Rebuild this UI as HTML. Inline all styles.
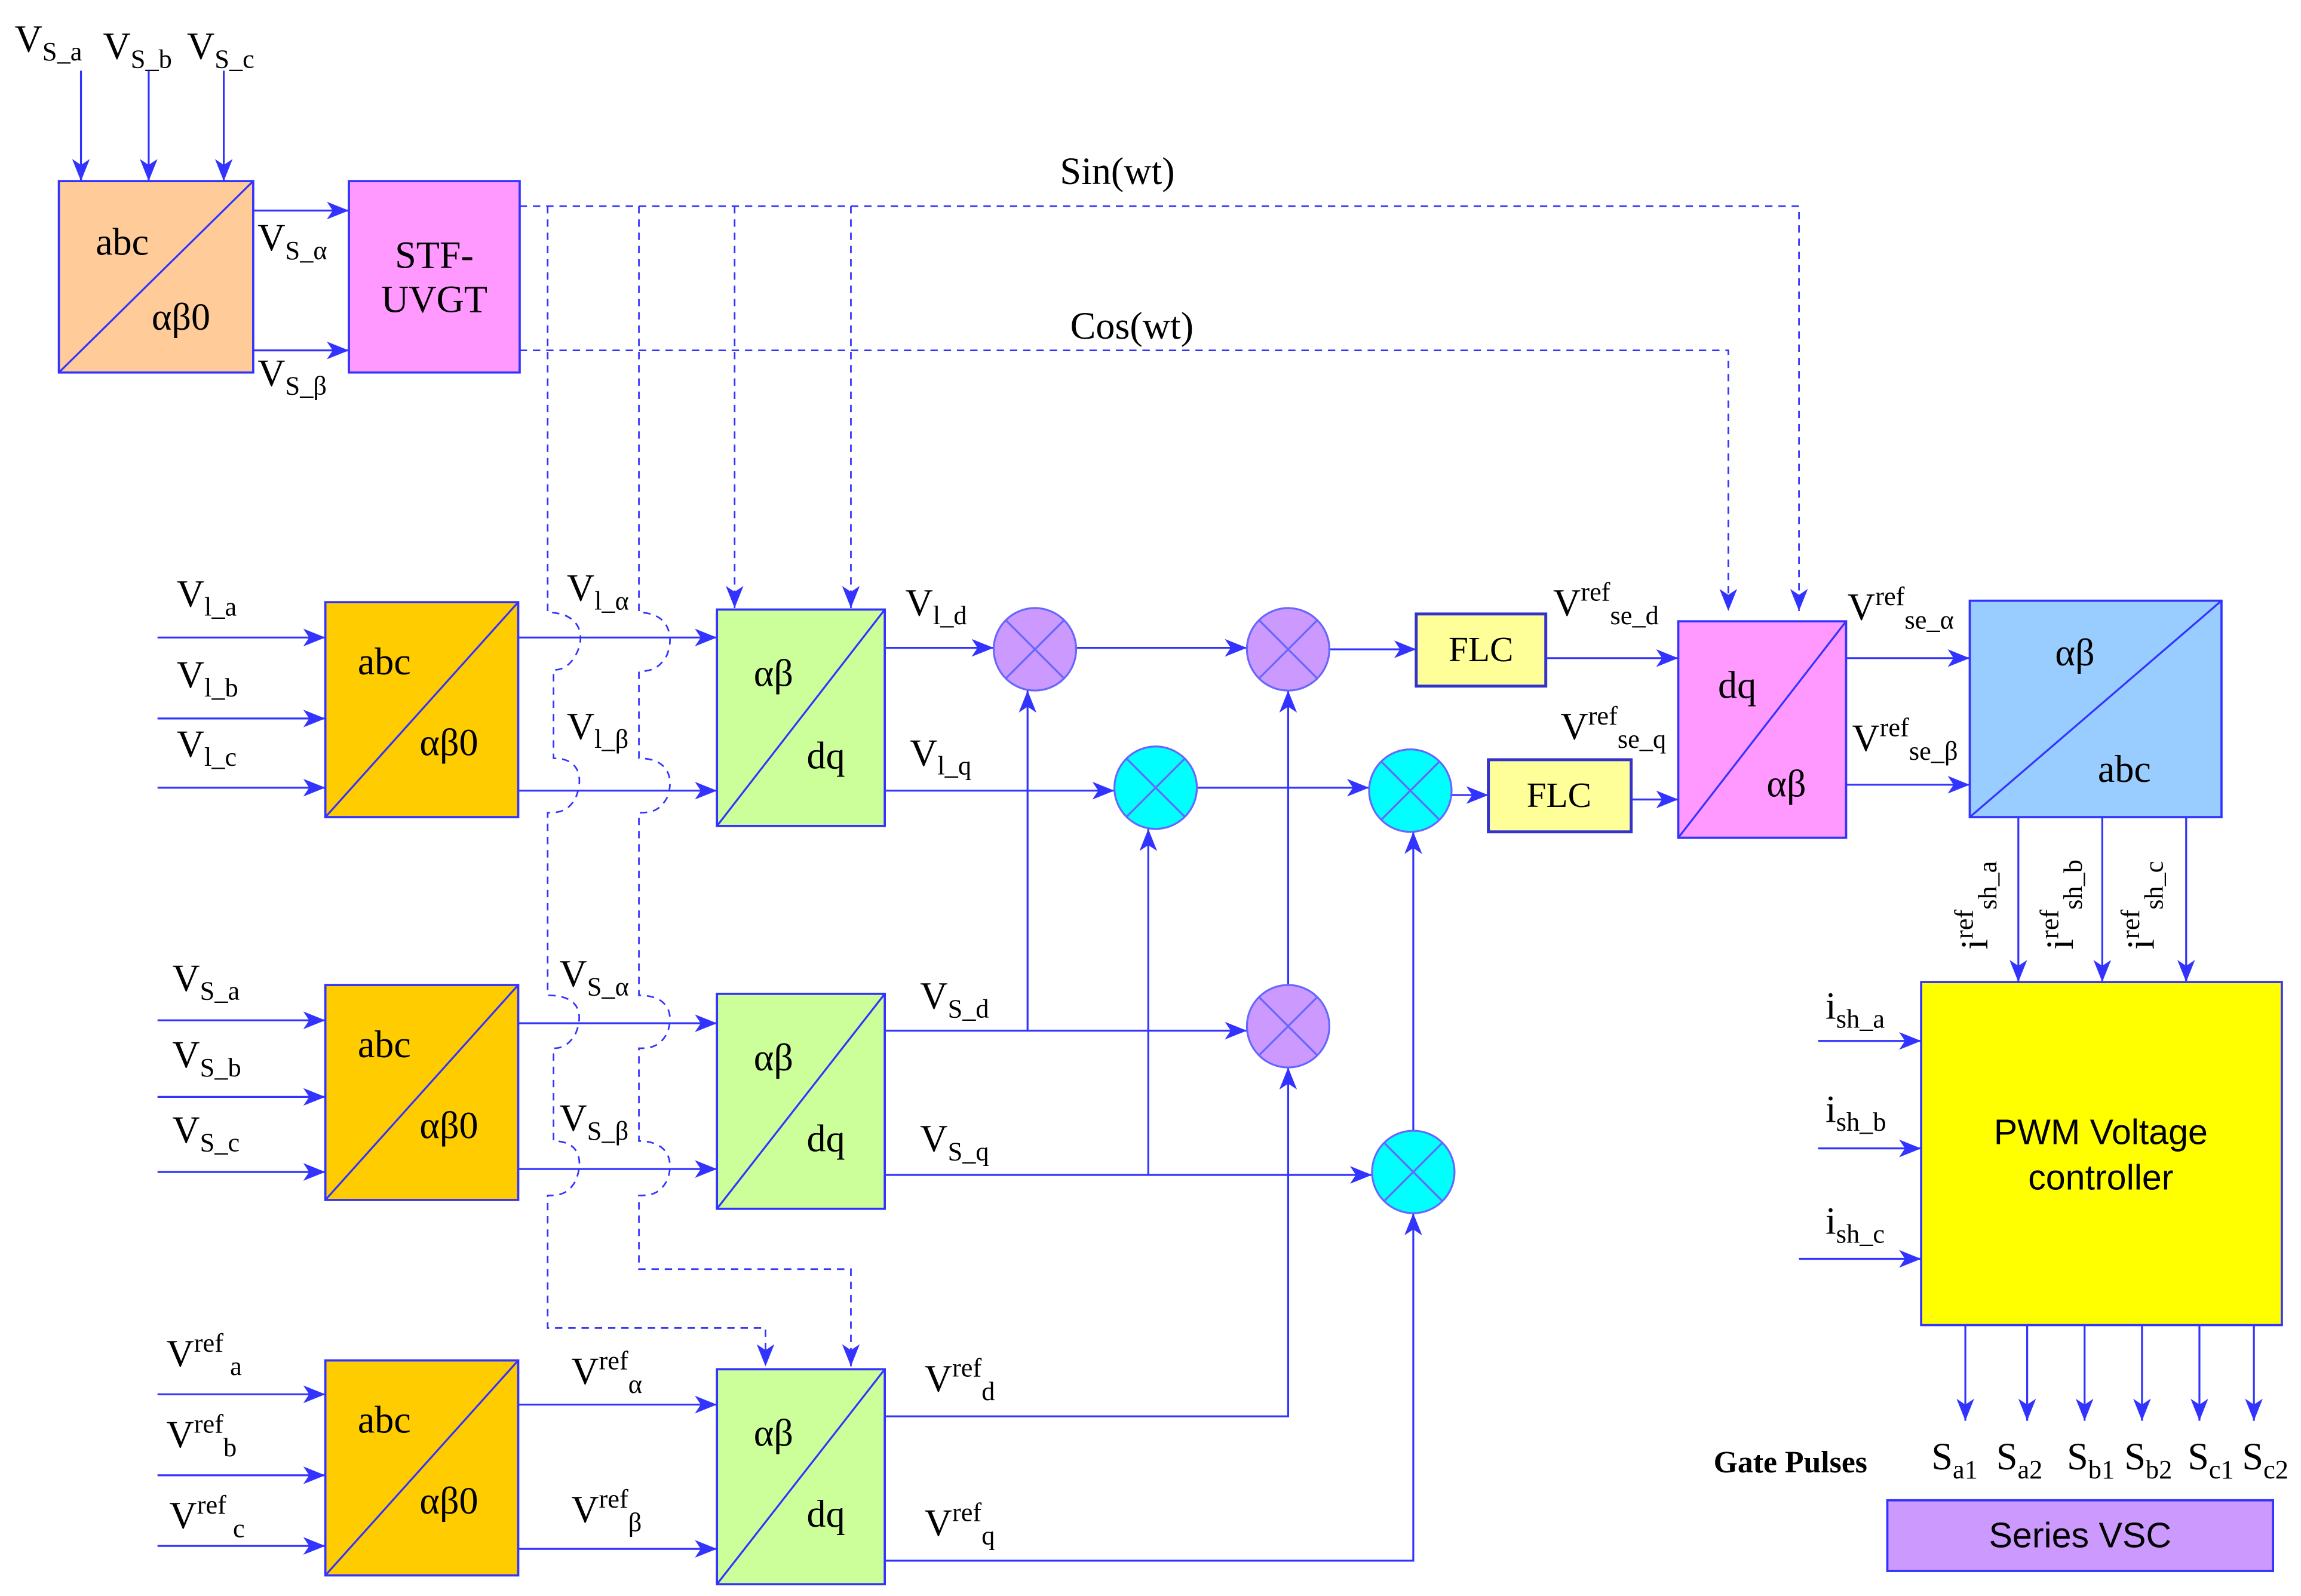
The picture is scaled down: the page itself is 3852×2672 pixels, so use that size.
<!DOCTYPE html>
<html><head><meta charset="utf-8"><style>
html,body{margin:0;padding:0;background:#fff;}
svg{display:block}
text{font-family:"Liberation Serif",serif;fill:#000;font-size:26px}
.s{font-size:18px}
.b{font-size:24px}
.ln{stroke:#3333FF;stroke-width:1.3;fill:none}
.d{stroke:#3333FF;stroke-width:1.1;fill:none;stroke-dasharray:5,4}
.bx{stroke:#3333FF;stroke-width:1.5}
</style></head><body>
<svg width="3852" height="2672" viewBox="0 0 1563 1084" preserveAspectRatio="none" xmlns="http://www.w3.org/2000/svg">
<defs>
<marker id="a" viewBox="0 0 15 12" refX="15" refY="6" markerWidth="15" markerHeight="12" markerUnits="userSpaceOnUse" orient="auto">
<path d="M0,0 L15,6 L0,12 L4,6 Z" fill="#3333FF"/></marker>
</defs>
<rect width="1563" height="1084" fill="#fff"/>

<text x="10" y="35">V<tspan class="s" dy="6">S_a</tspan></text>
<text x="70" y="40">V<tspan class="s" dy="6">S_b</tspan></text>
<text x="127" y="40">V<tspan class="s" dy="6">S_c</tspan></text>
<path class="ln" marker-end="url(#a)" d="M55,48 V123"/>
<path class="ln" marker-end="url(#a)" d="M101,48 V123"/>
<path class="ln" marker-end="url(#a)" d="M152,48 V123"/>
<rect class="bx" x="40" y="123" width="132" height="130" fill="#FFCC99"/>
<path class="ln" d="M40,253 L172,123"/>
<text x="65" y="173">abc</text><text x="103" y="224">αβ0</text>
<path class="ln" marker-end="url(#a)" d="M172,143 H237"/>
<path class="ln" marker-end="url(#a)" d="M172,238 H237"/>
<text x="175" y="170">V<tspan class="s" dy="6">S_α</tspan></text>
<text x="175" y="262">V<tspan class="s" dy="6">S_β</tspan></text>
<rect class="bx" x="237" y="123" width="116" height="130" fill="#FF99FF"/>
<text x="295" y="182" text-anchor="middle">STF-</text>
<text x="295" y="212" text-anchor="middle">UVGT</text>
<text x="720" y="125">Sin(wt)</text>
<text x="727" y="230">Cos(wt)</text>

<path class="d" marker-end="url(#a)" d="M353,140 H1222 V415"/>
<path class="d" marker-end="url(#a)" d="M353,238 H1174 V415"/>
<path class="d" marker-end="url(#a)" d="M499,140 V413"/>
<path class="d" marker-end="url(#a)" d="M578,140 V413"/>
<path class="d" marker-end="url(#a)" d="M372,140 V416 C395,416 398,433 391,445 C386,454 380,455 376,455 V515 C395,515 396,530 391,542 C386,551 380,552 372,552 V676 C395,676 396,690 391,702 C386,711 380,712 376,712 V775 C395,775 396,790 391,802 C386,811 380,812 372,812 V902 H520 V928"/>
<path class="d" marker-end="url(#a)" d="M434,140 V416 C455,416 458,433 453,445 C448,454 442,456 434,456 V515 C455,515 458,530 453,542 C448,551 442,552 434,552 V676 C455,676 458,690 453,702 C448,711 442,712 434,712 V775 C455,775 458,790 453,802 C448,811 442,812 434,812 V862 H578 V928"/>

<text x="120" y="412">V<tspan class="s" dy="6">l_a</tspan></text>
<text x="120" y="467">V<tspan class="s" dy="6">l_b</tspan></text>
<text x="120" y="514">V<tspan class="s" dy="6">l_c</tspan></text>
<path class="ln" marker-end="url(#a)" d="M107,433 H221"/>
<path class="ln" marker-end="url(#a)" d="M107,488 H221"/>
<path class="ln" marker-end="url(#a)" d="M107,535 H221"/>
<rect class="bx" x="221" y="409" width="131" height="146" fill="#FFCC00"/>
<path class="ln" d="M221,555 L352,409"/>
<text x="243" y="458">abc</text><text x="285" y="513">αβ0</text>
<path class="ln" marker-end="url(#a)" d="M352,433 H487"/>
<path class="ln" marker-end="url(#a)" d="M352,537 H487"/>
<text x="385" y="408">V<tspan class="s" dy="6">l_α</tspan></text>
<text x="385" y="502">V<tspan class="s" dy="6">l_β</tspan></text>
<rect class="bx" x="487" y="414" width="114" height="147" fill="#CCFF99"/>
<path class="ln" d="M487,561 L601,414"/>
<text x="512" y="466">αβ</text><text x="548" y="522">dq</text>

<text x="117" y="673">V<tspan class="s" dy="6">S_a</tspan></text>
<text x="117" y="725">V<tspan class="s" dy="6">S_b</tspan></text>
<text x="117" y="776">V<tspan class="s" dy="6">S_c</tspan></text>
<path class="ln" marker-end="url(#a)" d="M107,693 H221"/>
<path class="ln" marker-end="url(#a)" d="M107,745 H221"/>
<path class="ln" marker-end="url(#a)" d="M107,796 H221"/>
<rect class="bx" x="221" y="669" width="131" height="146" fill="#FFCC00"/>
<path class="ln" d="M221,815 L352,669"/>
<text x="243" y="718">abc</text><text x="285" y="773">αβ0</text>
<path class="ln" marker-end="url(#a)" d="M352,695 H487"/>
<path class="ln" marker-end="url(#a)" d="M352,794 H487"/>
<text x="380" y="670">V<tspan class="s" dy="6">S_α</tspan></text>
<text x="380" y="768">V<tspan class="s" dy="6">S_β</tspan></text>
<rect class="bx" x="487" y="675" width="114" height="146" fill="#CCFF99"/>
<path class="ln" d="M487,821 L601,675"/>
<text x="512" y="727">αβ</text><text x="548" y="782">dq</text>

<text x="113" y="928">V<tspan class="s" dy="-10">ref</tspan><tspan class="s" dy="16"> a</tspan></text>
<text x="113" y="983">V<tspan class="s" dy="-10">ref</tspan><tspan class="s" dy="16">b</tspan></text>
<text x="115" y="1038">V<tspan class="s" dy="-10">ref</tspan><tspan class="s" dy="16"> c</tspan></text>
<path class="ln" marker-end="url(#a)" d="M107,947 H221"/>
<path class="ln" marker-end="url(#a)" d="M107,1002 H221"/>
<path class="ln" marker-end="url(#a)" d="M107,1050 H221"/>
<rect class="bx" x="221" y="924" width="131" height="146" fill="#FFCC00"/>
<path class="ln" d="M221,1070 L352,924"/>
<text x="243" y="973">abc</text><text x="285" y="1028">αβ0</text>
<path class="ln" marker-end="url(#a)" d="M352,954 H487"/>
<path class="ln" marker-end="url(#a)" d="M352,1052 H487"/>
<text x="388" y="940">V<tspan class="s" dy="-10">ref</tspan><tspan class="s" dy="16">α</tspan></text>
<text x="388" y="1034">V<tspan class="s" dy="-10">ref</tspan><tspan class="s" dy="16">β</tspan></text>
<rect class="bx" x="487" y="930" width="114" height="146" fill="#CCFF99"/>
<path class="ln" d="M487,1076 L601,930"/>
<text x="512" y="982">αβ</text><text x="548" y="1037">dq</text>

<path class="ln" marker-end="url(#a)" d="M601,440 H675"/>
<text x="615" y="418">V<tspan class="s" dy="6">l_d</tspan></text>
<path class="ln" marker-end="url(#a)" d="M601,537 H757"/>
<text x="618" y="520">V<tspan class="s" dy="6">l_q</tspan></text>
<path class="ln" marker-end="url(#a)" d="M731,440 H847"/>
<path class="ln" marker-end="url(#a)" d="M903,441 H962"/>
<path class="ln" marker-end="url(#a)" d="M813,535 H930"/>
<path class="ln" marker-end="url(#a)" d="M986,540 H1011"/>
<path class="ln" marker-end="url(#a)" d="M601,700 H847"/>
<path class="ln" marker-end="url(#a)" d="M698,700 V469"/>
<text x="625" y="685">V<tspan class="s" dy="6">S_d</tspan></text>
<path class="ln" marker-end="url(#a)" d="M601,798 H932"/>
<path class="ln" marker-end="url(#a)" d="M780,798 V563"/>
<text x="625" y="782">V<tspan class="s" dy="6">S_q</tspan></text>
<path class="ln" marker-end="url(#a)" d="M875,669 V469"/>
<path class="ln" marker-end="url(#a)" d="M960,768 V565"/>
<path class="ln" marker-end="url(#a)" d="M601,962 H875 V725"/>
<text x="628" y="945">V<tspan class="s" dy="-10">ref</tspan><tspan class="s" dy="16">d</tspan></text>
<path class="ln" marker-end="url(#a)" d="M601,1060 H960 V824"/>
<text x="628" y="1043">V<tspan class="s" dy="-10">ref</tspan><tspan class="s" dy="16">q</tspan></text>

<g stroke="#6666FF" stroke-width="1.3">
<circle cx="703" cy="441" r="28" fill="#CC99FF"/><path d="M683,421 L723,461 M723,421 L683,461"/>
<circle cx="875" cy="441" r="28" fill="#CC99FF"/><path d="M855,421 L895,461 M895,421 L855,461"/>
<circle cx="875" cy="697" r="28" fill="#CC99FF"/><path d="M855,677 L895,717 M895,677 L855,717"/>
<circle cx="785" cy="535" r="28" fill="#00FFFF"/><path d="M765,515 L805,555 M805,515 L765,555"/>
<circle cx="958" cy="537" r="28" fill="#00FFFF"/><path d="M938,517 L978,557 M978,517 L938,557"/>
<circle cx="960" cy="796" r="28" fill="#00FFFF"/><path d="M940,776 L980,816 M980,776 L940,816"/>
</g>

<rect x="962" y="417" width="88" height="49" fill="#FFFF99" stroke="#3333CC" stroke-width="2"/>
<text x="1006" y="449" text-anchor="middle" class="b">FLC</text>
<rect x="1011" y="516" width="97" height="49" fill="#FFFF99" stroke="#3333CC" stroke-width="2"/>
<text x="1059" y="548" text-anchor="middle" class="b">FLC</text>
<path class="ln" marker-end="url(#a)" d="M1050,447 H1140"/>
<path class="ln" marker-end="url(#a)" d="M1108,543 H1140"/>
<text x="1055" y="418">V<tspan class="s" dy="-10">ref</tspan><tspan class="s" dy="16">se_d</tspan></text>
<text x="1060" y="502">V<tspan class="s" dy="-10">ref</tspan><tspan class="s" dy="16">se_q</tspan></text>

<rect class="bx" x="1140" y="422" width="114" height="147" fill="#FF99FF"/>
<path class="ln" d="M1140,569 L1254,422"/>
<text x="1167" y="474">dq</text><text x="1200" y="541">αβ</text>
<path class="ln" marker-end="url(#a)" d="M1254,447 H1338"/>
<path class="ln" marker-end="url(#a)" d="M1254,533 H1338"/>
<text x="1255" y="421">V<tspan class="s" dy="-10">ref</tspan><tspan class="s" dy="16">se_α</tspan></text>
<text x="1258" y="510">V<tspan class="s" dy="-10">ref</tspan><tspan class="s" dy="16">se_β</tspan></text>
<rect class="bx" x="1338" y="408" width="171" height="147" fill="#99CCFF"/>
<path class="ln" d="M1338,555 L1509,408"/>
<text x="1396" y="452">αβ</text><text x="1425" y="531">abc</text>

<path class="ln" marker-end="url(#a)" d="M1371,555 V667"/>
<path class="ln" marker-end="url(#a)" d="M1428,555 V667"/>
<path class="ln" marker-end="url(#a)" d="M1485,555 V667"/>
<text transform="translate(1350,645) rotate(-90)">i<tspan class="s" dy="-10">ref</tspan><tspan class="s" dy="16">sh_a</tspan></text>
<text transform="translate(1408,645) rotate(-90)">i<tspan class="s" dy="-10">ref</tspan><tspan class="s" dy="16">sh_b</tspan></text>
<text transform="translate(1463,645) rotate(-90)">i<tspan class="s" dy="-10">ref</tspan><tspan class="s" dy="16">sh_c</tspan></text>

<rect class="bx" x="1305" y="667" width="245" height="233" fill="#FFFF00"/>
<text x="1427" y="777" text-anchor="middle" class="b" style="font-family:'Liberation Sans',sans-serif">PWM Voltage</text>
<text x="1427" y="808" text-anchor="middle" class="b" style="font-family:'Liberation Sans',sans-serif">controller</text>
<path class="ln" marker-end="url(#a)" d="M1235,707 H1305"/>
<path class="ln" marker-end="url(#a)" d="M1235,780 H1305"/>
<path class="ln" marker-end="url(#a)" d="M1222,855 H1305"/>
<text x="1240" y="692">i<tspan class="s" dy="6">sh_a</tspan></text>
<text x="1240" y="762">i<tspan class="s" dy="6">sh_b</tspan></text>
<text x="1240" y="838">i<tspan class="s" dy="6">sh_c</tspan></text>

<path class="ln" marker-end="url(#a)" d="M1335,900 V965"/>
<path class="ln" marker-end="url(#a)" d="M1377,900 V965"/>
<path class="ln" marker-end="url(#a)" d="M1416,900 V965"/>
<path class="ln" marker-end="url(#a)" d="M1455,900 V965"/>
<path class="ln" marker-end="url(#a)" d="M1494,900 V965"/>
<path class="ln" marker-end="url(#a)" d="M1531,900 V965"/>
<text x="1164" y="1000" style="font-weight:bold;font-size:21px">Gate Pulses</text>
<text x="1312" y="998">S<tspan class="s" dy="6">a1</tspan></text>
<text x="1356" y="998">S<tspan class="s" dy="6">a2</tspan></text>
<text x="1404" y="998">S<tspan class="s" dy="6">b1</tspan></text>
<text x="1443" y="998">S<tspan class="s" dy="6">b2</tspan></text>
<text x="1486" y="998">S<tspan class="s" dy="6">c1</tspan></text>
<text x="1523" y="998">S<tspan class="s" dy="6">c2</tspan></text>
<rect class="bx" x="1282" y="1019" width="262" height="48" fill="#CC99FF"/>
<text x="1413" y="1051" text-anchor="middle" class="b" style="font-family:'Liberation Sans',sans-serif">Series VSC</text>
</svg>
</body></html>
